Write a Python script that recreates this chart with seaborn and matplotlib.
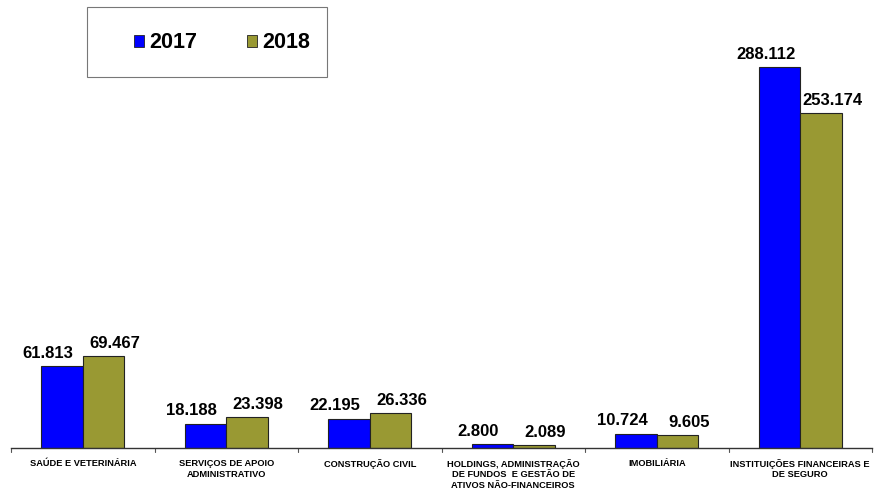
import matplotlib
matplotlib.use("Agg")
import matplotlib.pyplot as plt
import seaborn as sns
import pandas as pd
from matplotlib.patches import Rectangle

categories = [
    "SAÚDE E VETERINÁRIA",
    "SERVIÇOS DE APOIO\nADMINISTRATIVO",
    "CONSTRUÇÃO CIVIL",
    "HOLDINGS, ADMINISTRAÇÃO\nDE FUNDOS  E GESTÃO DE\nATIVOS NÃO-FINANCEIROS",
    "IMOBILIÁRIA",
    "INSTITUIÇÕES FINANCEIRAS E\nDE SEGURO",
]
values_2017 = [61.813, 18.188, 22.195, 2.800, 10.724, 288.112]
values_2018 = [69.467, 23.398, 26.336, 2.089, 9.605, 253.174]
labels_2017 = ["61.813", "18.188", "22.195", "2.800", "10.724", "288.112"]
labels_2018 = ["69.467", "23.398", "26.336", "2.089", "9.605", "253.174"]
years = ["2017", "2018"]
colors = ["#0000FF", "#999933"]

df = pd.DataFrame({
    "cat": categories * 2,
    "year": [years[0]] * 6 + [years[1]] * 6,
    "val": values_2017 + values_2018,
})

sns.set_style("white")
plt.rcParams["font.family"] = ["Liberation Sans", "DejaVu Sans"]
plt.rcParams["text.color"] = "black"

fig = plt.figure(figsize=(8.74, 4.94), dpi=100)
ax = fig.add_axes([11 / 874, 46 / 494, 861 / 874, 448 / 494])
sns.barplot(data=df, x="cat", y="val", hue="year", palette=colors,
            width=0.58, edgecolor="#222222", linewidth=0.8, ax=ax,
            legend=False, saturation=1)
ax.set_ylim(0, 339)
ax.set_xlim(-0.5, 5.5)
ax.set_xlabel("")
ax.set_ylabel("")
ax.set_yticks([])
for s in ["top", "right", "left"]:
    ax.spines[s].set_visible(False)
ax.spines["bottom"].set_color("#333333")
ax.spines["bottom"].set_linewidth(1)

ax.set_xticks(range(6))
ax.set_xticklabels(categories, fontsize=6.7, fontweight="bold",
                   linespacing=1.2, va="top", color="black")
ax.tick_params(axis="x", length=0, pad=8)
# boundary ticks
for b in [i - 0.5 for i in range(7)]:
    ax.plot([b, b], [0, -3], color="#555555", lw=0.8, clip_on=False,
            transform=ax.transData)

containers = ax.containers
for cont, labs, dx in zip(containers, [labels_2017, labels_2018], [-10, 8]):
    for rect, lab in zip(cont, labs):
        x = rect.get_x() + rect.get_width() / 2
        y = rect.get_height()
        ax.annotate(lab, (x, y), xytext=(dx, 4), textcoords="offset points",
                    ha="center", va="bottom", fontsize=12, fontweight="bold",
                    color="black")

# legend box
fig.patches.append(Rectangle((87 / 874, 1 - 77 / 494), 240 / 874, 70 / 494,
                             transform=fig.transFigure, facecolor="white",
                             edgecolor="#777777", lw=0.8))
handles = [Rectangle((0, 0), 1, 1, facecolor=c, edgecolor="#222222", lw=0.6)
           for c in colors]
leg = fig.legend(handles, years, loc="center",
                 bbox_to_anchor=(222 / 874, 1 - 43 / 494),
                 ncol=2, frameon=False, prop={"weight": "bold", "size": 15.5},
                 handlelength=0.45, handleheight=0.45, handletextpad=0.25,
                 columnspacing=2.3)
for t in leg.get_texts():
    t.set_color("black")

fig.savefig("out.png", dpi=100)
